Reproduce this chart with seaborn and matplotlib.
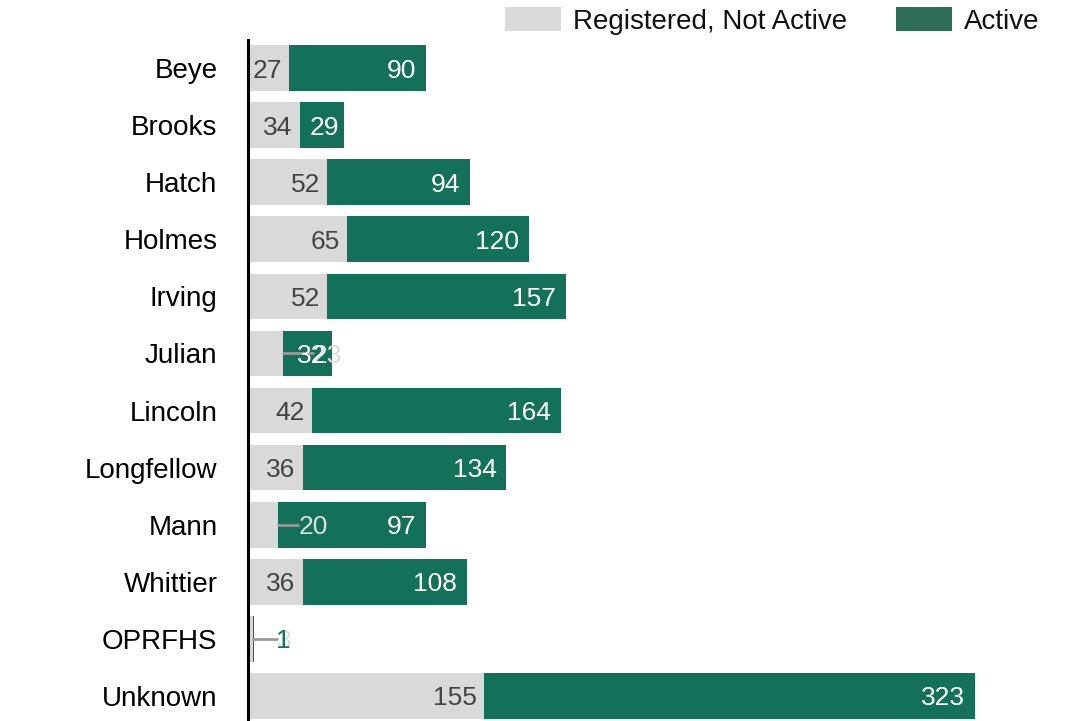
import matplotlib
matplotlib.use("Agg")
import matplotlib.pyplot as plt
import seaborn as sns
import pandas as pd
from matplotlib.patches import Patch

schools = ["Beye", "Brooks", "Hatch", "Holmes", "Irving", "Julian", "Lincoln",
           "Longfellow", "Mann", "Whittier", "OPRFHS", "Unknown"]
not_active = [27, 34, 52, 65, 52, 23, 42, 36, 20, 36, 3, 155]
active = [90, 29, 94, 120, 157, 32, 164, 134, 97, 108, 1, 323]

GRAY = "#d9d9d9"
GREEN = "#137159"

sns.set_theme(style="white")
plt.rcParams["font.family"] = ["Liberation Sans", "DejaVu Sans"]

df = pd.DataFrame({"school": schools, "not_active": not_active, "active": active})
df["total"] = df["not_active"] + df["active"]

fig = plt.figure(figsize=(10.68, 7.21), dpi=100)
ax = fig.add_axes([248 / 1068, -3.5 / 721, 820 / 1068, 685 / 721])

sns.barplot(data=df, y="school", x="total", color=GREEN, saturation=1, width=0.8,
            orient="h", ax=ax, order=schools)
sns.barplot(data=df, y="school", x="not_active", color=GRAY, saturation=1, width=0.8,
            orient="h", ax=ax, order=schools)
for p in ax.patches:
    p.set_edgecolor("none")

ax.set_xlim(0, 820 / 1.52)
ax.set_ylim(11.5, -0.5)
ax.set_xlabel("")
ax.set_ylabel("")
ax.set_xticks([])
ax.tick_params(axis="y", length=0, pad=22, labelsize=20, labelcolor="black")
for s in ["top", "right", "bottom"]:
    ax.spines[s].set_visible(False)
ax.spines["left"].set_color("black")
ax.spines["left"].set_linewidth(2.2)
ax.spines["left"].set_zorder(10)

px = 1 / 1.52  # data units per pixel
fs = 19
for i, (g, a) in enumerate(zip(not_active, active)):
    # gray labels
    if g >= 25:
        ax.text(g - 7 * px, i, str(g), ha="right", va="center_baseline", fontsize=fs, color="#444444")
    else:
        off = 20 if a >= 40 else (30 if a >= 5 else 24)
        ax.plot([g, g + off * px], [i, i], color="#999999", lw=2, zorder=4)
        ax.text(g + off * px, i, str(g), ha="left", va="center_baseline", fontsize=fs, color="#dddddd", zorder=5)
    # active labels
    if a >= 5:
        pad = 10 if a >= 40 else 5
        ax.text(g + a - pad * px, i, str(a), ha="right", va="center_baseline", fontsize=fs, color="white", zorder=6)
    else:
        ax.text(g + a + 22 * px, i, str(a), ha="left", va="center_baseline", fontsize=fs, color=GREEN, zorder=6)

handles = [Patch(facecolor=GRAY, edgecolor="none", label="Registered, Not Active"),
           Patch(facecolor="#2f6e56", edgecolor="none", label="Active")]
leg = fig.legend(handles=handles, loc="upper right", bbox_to_anchor=(0.989, 1.014), ncol=2,
                 frameon=False, fontsize=20, handlelength=2.0, handleheight=1.0,
                 columnspacing=1.75, handletextpad=0.45, borderaxespad=0.2)
for t in leg.get_texts():
    t.set_color("#111111")

fig.savefig("out.png", dpi=100)
